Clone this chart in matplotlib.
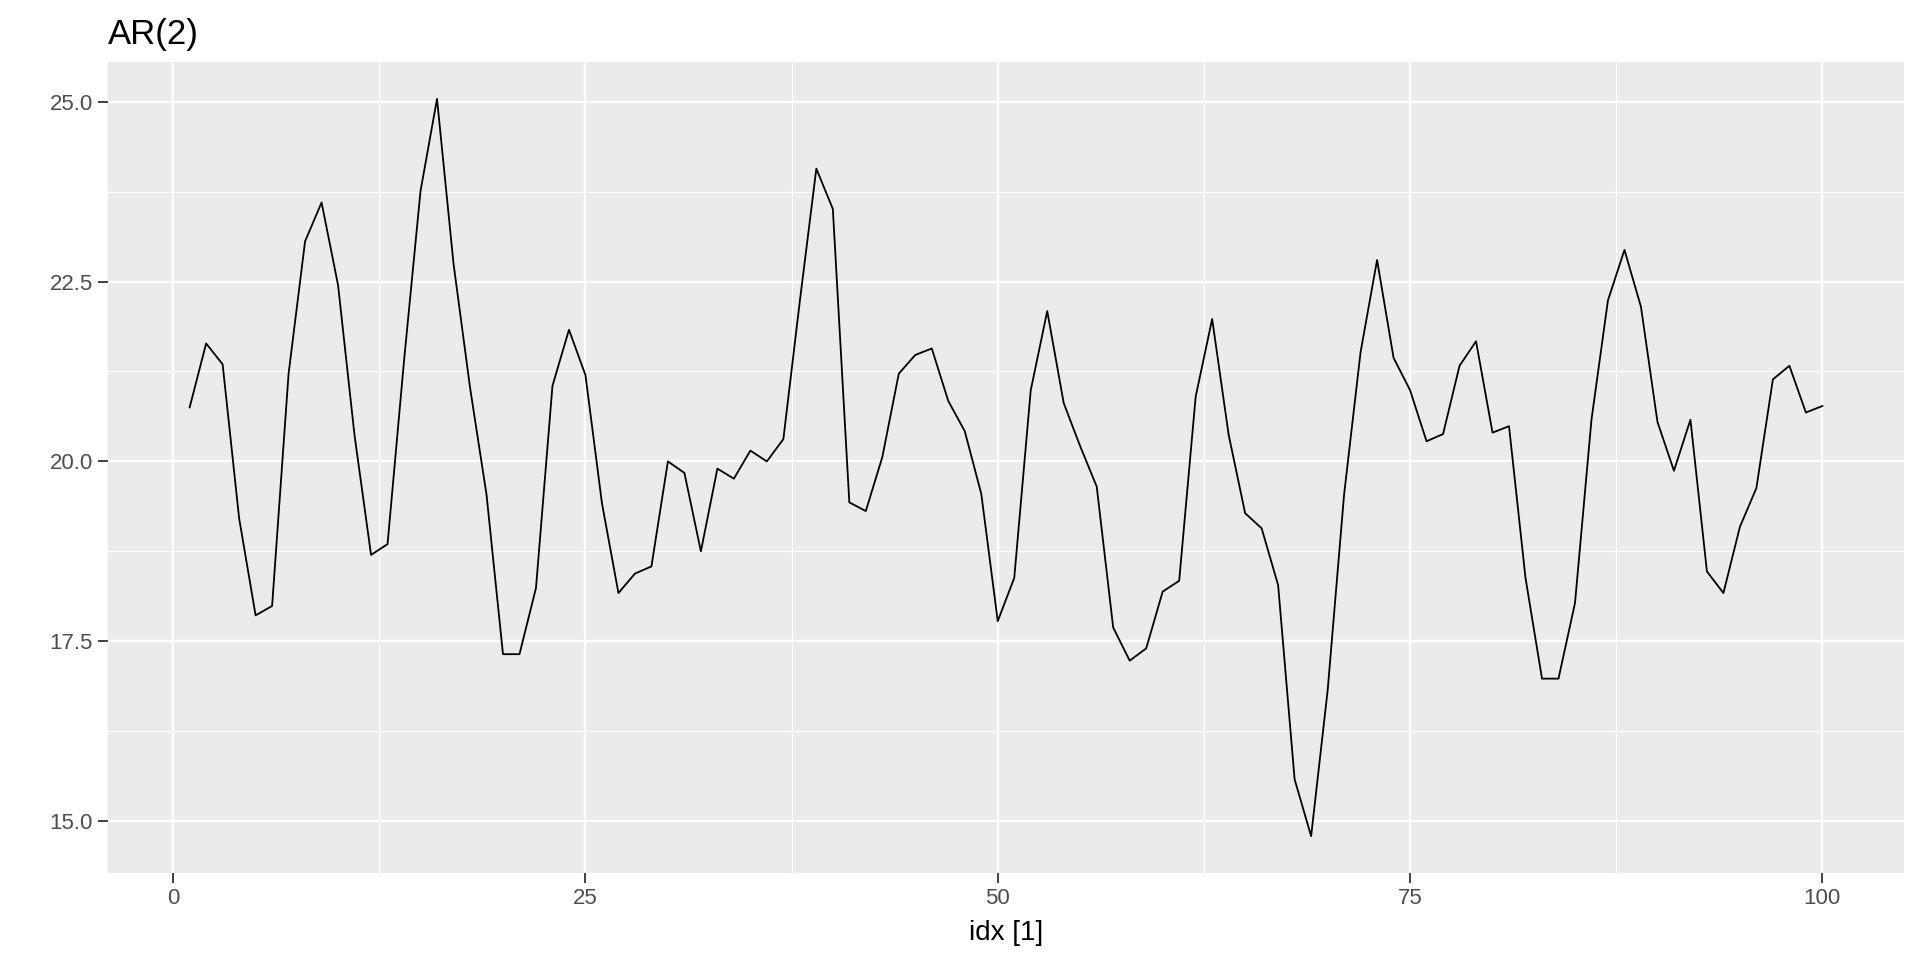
import matplotlib
matplotlib.use("Agg")
import matplotlib.pyplot as plt
from matplotlib.ticker import MultipleLocator, FormatStrFormatter
import numpy as np

plt.rcParams["font.family"] = ["Liberation Sans", "DejaVu Sans"]

# AR(2) simulated series
idx = np.arange(1, 101)
values = [
    20.75, 21.64, 21.35, 19.21, 17.86, 17.99, 21.22, 23.06, 23.60, 22.45,
    20.36, 18.70, 18.85, 21.40, 23.76, 25.04, 22.75, 21.03, 19.54, 17.32,
    17.32, 18.24, 21.05, 21.83, 21.20, 19.42, 18.17, 18.44, 18.54, 20.00,
    19.84, 18.75, 19.90, 19.76, 20.15, 20.00, 20.31, 22.23, 24.07, 23.51,
    19.43, 19.31, 20.06, 21.22, 21.48, 21.57, 20.84, 20.42, 19.55, 17.78,
    18.38, 20.99, 22.09, 20.81, 20.21, 19.65, 17.69, 17.23, 17.40, 18.19,
    18.34, 20.90, 21.98, 20.37, 19.28, 19.07, 18.28, 15.58, 14.79, 16.81,
    19.54, 21.52, 22.80, 21.44, 20.99, 20.28, 20.38, 21.33, 21.67, 20.40,
    20.49, 18.38, 16.98, 16.98, 18.03, 20.58, 22.24, 22.94, 22.15, 20.55,
    19.87, 20.58, 18.47, 18.17, 19.09, 19.63, 21.14, 21.33, 20.68, 20.77,
]
x_ticks = [0, 25, 50, 75, 100]
y_ticks = [15.0, 17.5, 20.0, 22.5, 25.0]

PANEL = "#EBEBEB"
TEXT = "#4D4D4D"

fig = plt.figure(figsize=(19.2, 9.6), dpi=100)
ax = fig.add_axes([0.05625, 0.0906, 0.93542, 0.84479])
ax.set_facecolor(PANEL)

ax.plot(idx, values, color="black", lw=1.3, zorder=3)

ax.margins(x=0.05, y=0.05)
ax.set_xticks(x_ticks)
ax.set_yticks(y_ticks)
ax.xaxis.set_minor_locator(MultipleLocator(12.5))
ax.yaxis.set_minor_locator(MultipleLocator(1.25))
ax.yaxis.set_major_formatter(FormatStrFormatter("%.1f"))
ax.grid(which="major", color="white", lw=1.6)
ax.grid(which="minor", color="white", lw=0.8)
ax.set_axisbelow(True)
for s in ax.spines.values():
    s.set_visible(False)

ax.tick_params(which="major", length=7, width=1.3, color="#333333",
               labelsize=16, labelcolor=TEXT, pad=4)
ax.tick_params(which="minor", length=0)

ax.set_xlabel("idx [1]", fontsize=20, color="black", labelpad=8)
ax.set_title("AR(2)", loc="left", fontsize=25, color="black", pad=13)

fig.savefig("out.png", dpi=100)
